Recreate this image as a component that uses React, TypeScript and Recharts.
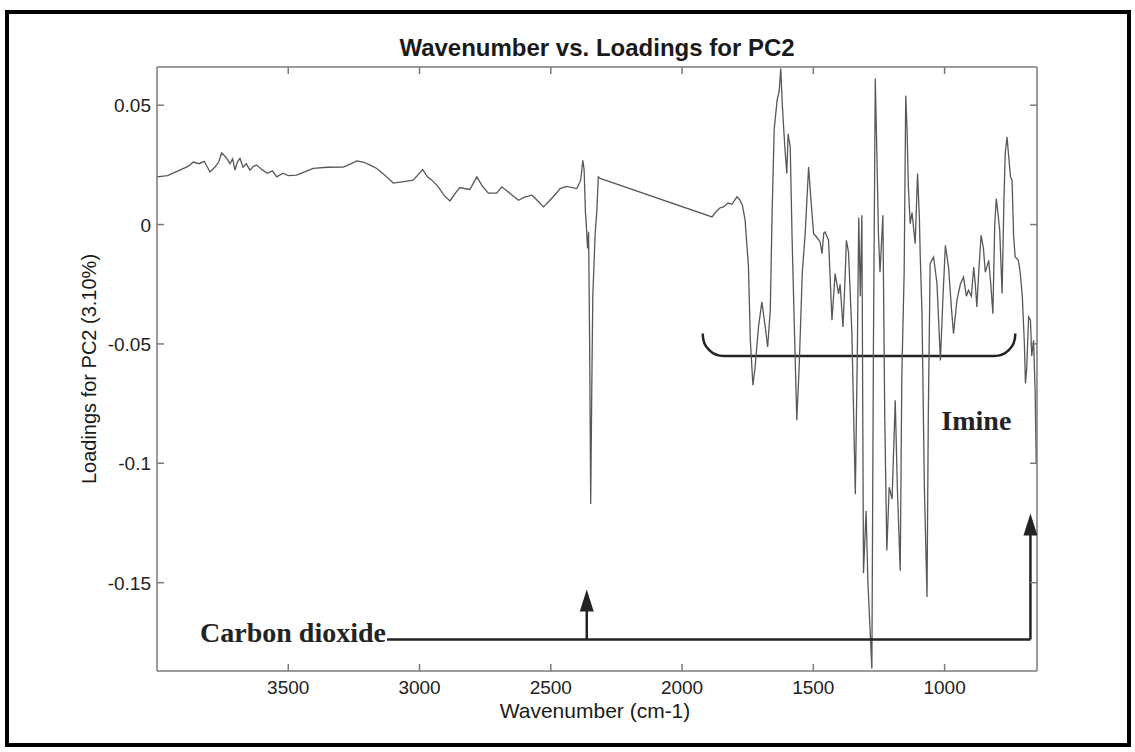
import React from 'react';
import { LineChart, Line, XAxis, YAxis, ReferenceLine, ReferenceDot, ReferenceArea } from 'recharts';

// Wavenumber (cm-1), read left to right (descending)
const wavenumbers: number[] = [
  4000, 3960, 3913, 3880, 3862, 3840, 3820, 3798, 3780, 3765,
  3754, 3740, 3730, 3722, 3712, 3703, 3694, 3684, 3672, 3660,
  3646, 3632, 3620, 3600, 3580, 3560, 3544, 3520, 3500, 3468,
  3440, 3405, 3350, 3290, 3260, 3239, 3214, 3190, 3163, 3130,
  3100, 3060, 3024, 2988, 2970, 2953, 2930, 2905, 2884, 2865,
  2846, 2825, 2808, 2782, 2760, 2738, 2706, 2687, 2655, 2623,
  2600, 2572, 2550, 2528, 2503, 2480, 2465, 2440, 2401, 2386,
  2378, 2373, 2368, 2365, 2360, 2356, 2352, 2348, 2344, 2340,
  2331, 2325, 2319, 2312, 1886, 1870, 1855, 1842, 1825, 1810,
  1791, 1779, 1770, 1760, 1747, 1740, 1730, 1722, 1709, 1696,
  1683, 1674, 1664, 1657, 1649, 1638, 1630, 1624, 1618, 1614,
  1607, 1601, 1596, 1588, 1581, 1573, 1563, 1554, 1542, 1531,
  1518, 1509, 1499, 1489, 1474, 1467, 1460, 1455, 1442, 1429,
  1417, 1404, 1398, 1387, 1380, 1374, 1366, 1353, 1340, 1332,
  1327, 1321, 1315, 1309, 1299, 1292, 1277, 1271, 1264, 1258,
  1252, 1246, 1235, 1228, 1220, 1211, 1200, 1188, 1180, 1169,
  1163, 1154, 1148, 1143, 1138, 1131, 1124, 1112, 1103, 1096,
  1093, 1086, 1077, 1067, 1062, 1055, 1042, 1029, 1016, 1006,
  997, 985, 974, 966, 953, 940, 928, 917, 909, 898,
  889, 883, 877, 870, 861, 852, 845, 832, 824, 816,
  809, 803, 797, 790, 781, 774, 769, 762, 757, 749,
  743, 737, 731, 719, 712, 704, 696, 692, 687, 680,
  673, 668, 661, 655, 651,
];

// Loadings for PC2
const loadings: number[] = [
  0.0200, 0.0205, 0.0228, 0.0245, 0.0262, 0.0255, 0.0265, 0.0220, 0.0240, 0.0262,
  0.0300, 0.0285, 0.0270, 0.0255, 0.0275, 0.0228, 0.0262, 0.0277, 0.0240, 0.0255,
  0.0228, 0.0245, 0.0249, 0.0230, 0.0215, 0.0225, 0.0200, 0.0215, 0.0205, 0.0207,
  0.0220, 0.0235, 0.0240, 0.0241, 0.0255, 0.0267, 0.0262, 0.0250, 0.0235, 0.0205,
  0.0174, 0.0180, 0.0186, 0.0230, 0.0200, 0.0186, 0.0160, 0.0120, 0.0099, 0.0130,
  0.0155, 0.0150, 0.0147, 0.0200, 0.0160, 0.0132, 0.0132, 0.0158, 0.0130, 0.0102,
  0.0115, 0.0123, 0.0100, 0.0074, 0.0102, 0.0130, 0.0151, 0.0160, 0.0151, 0.0186,
  0.0269, 0.0228, 0.0050, 0.0004, -0.0100, -0.0030, -0.0500, -0.1170, -0.0700, -0.0300,
  -0.0037, 0.0050, 0.0200, 0.0193, 0.0032, 0.0055, 0.0070, 0.0074, 0.0090, 0.0085,
  0.0116, 0.0102, 0.0080, 0.0020, -0.0178, -0.0485, -0.0673, -0.0600, -0.0430, -0.0324,
  -0.0430, -0.0513, -0.0360, 0.0050, 0.0400, 0.0520, 0.0560, 0.0654, 0.0500, 0.0423,
  0.0300, 0.0214, 0.0380, 0.0325, -0.0050, -0.0400, -0.0820, -0.0600, -0.0200, -0.0038,
  0.0241, 0.0102, -0.0038, -0.0050, -0.0073, -0.0122, -0.0035, -0.0031, -0.0066, -0.0401,
  -0.0205, -0.0290, -0.0250, -0.0429, -0.0250, -0.0066, -0.0115, -0.0457, -0.1130, -0.0500,
  0.0030, -0.0300, 0.0039, -0.1460, -0.1200, -0.1500, -0.1860, -0.0500, 0.0612, 0.0300,
  -0.0038, -0.0200, 0.0039, -0.0800, -0.1365, -0.1100, -0.1150, -0.0736, -0.1100, -0.1450,
  -0.0640, -0.0200, 0.0540, 0.0400, 0.0158, 0.0004, 0.0050, -0.0080, 0.0214, 0.0030,
  -0.0122, -0.0373, -0.1100, -0.1560, -0.0800, -0.0163, -0.0136, -0.0247, -0.0569, -0.0300,
  -0.0087, -0.0178, -0.0350, -0.0457, -0.0317, -0.0250, -0.0220, -0.0300, -0.0275, -0.0300,
  -0.0178, -0.0250, -0.0345, -0.0200, -0.0045, -0.0100, -0.0200, -0.0150, -0.0250, -0.0373,
  0.0000, 0.0109, 0.0050, -0.0024, -0.0289, 0.0100, 0.0300, 0.0367, 0.0300, 0.0200,
  0.0186, -0.0050, -0.0136, -0.0150, -0.0200, -0.0300, -0.0500, -0.0666, -0.0600, -0.0387,
  -0.0400, -0.0550, -0.0485, -0.0700, -0.1000,
];

const xTicks: number[] = [3500, 3000, 2500, 2000, 1500, 1000];
const yTicks: number[] = [0.05, 0, -0.05, -0.1, -0.15];
const xDomain: [number, number] = [648, 4000];
const yDomain: [number, number] = [-0.187, 0.066];

const titleText = 'Wavenumber vs. Loadings for PC2';
const xLabelText = 'Wavenumber (cm-1)';
const yLabelText = 'Loadings for PC2 (3.10%)';

// Annotations (data coordinates)
const co2Label = 'Carbon dioxide';
const imineLabel = 'Imine';
const baseLineY = -0.1738;
const baseLineStart = 3124;
const baseLineEnd = 673;
const co2ArrowX = 2363;
const co2ArrowTip = -0.1529;
const imineArrowX = 673;
const imineArrowTip = -0.121;
const bracketX1 = 1921;
const bracketX2 = 731;
const bracketTop = -0.0456;
const bracketBottom = -0.0551;
const imineTextX = 742;
const imineTextY = -0.0846;

const data = wavenumbers.map((w, i) => ({ w, v: loadings[i] }));

const AXIS = '#7a7a7a';
const TICK_LEN = 7;
const SANS = '"Liberation Sans", Arial, Helvetica, sans-serif';
const SERIF = '"Liberation Serif", "Times New Roman", serif';
const ANN = '#232323';

const BottomTick = (p: any) => (
  <g>
    <line x1={p.x} x2={p.x} y1={p.y} y2={p.y - TICK_LEN} stroke={AXIS} strokeWidth={1.5} />
    <text x={p.x} y={p.y + 23} textAnchor="middle" fontSize={19} fill="#222" fontFamily={SANS}>
      {String(p.payload.value)}
    </text>
  </g>
);
const TopTick = (p: any) => (
  <line x1={p.x} x2={p.x} y1={p.y} y2={p.y + TICK_LEN} stroke={AXIS} strokeWidth={1.5} />
);
const LeftTick = (p: any) => (
  <g>
    <line x1={p.x} x2={p.x + TICK_LEN} y1={p.y} y2={p.y} stroke={AXIS} strokeWidth={1.5} />
    <text x={p.x - 6} y={p.y + 7} textAnchor="end" fontSize={19} fill="#222" fontFamily={SANS}>
      {String(p.payload.value)}
    </text>
  </g>
);
const RightTick = (p: any) => (
  <line x1={p.x} x2={p.x - TICK_LEN} y1={p.y} y2={p.y} stroke={AXIS} strokeWidth={1.5} />
);

const Arrowhead = (p: any) => (
  <polygon points={`${p.cx},${p.cy} ${p.cx - 7},${p.cy + 22} ${p.cx + 7},${p.cy + 22}`} fill={ANN} />
);

const Bracket = (p: any) => {
  const x = p.x, y = p.y, w = p.width, h = p.height;
  const r = Math.min(21, h);
  const d = `M ${x} ${y} L ${x} ${y + h - r} A ${r} ${r} 0 0 0 ${x + r} ${y + h} L ${x + w - r} ${y + h} A ${r} ${r} 0 0 0 ${x + w} ${y + h - r} L ${x + w} ${y}`;
  return <path d={d} fill="none" stroke={ANN} strokeWidth={2.5} />;
};

const TextAtDot = (label: string) => (p: any) => (
  <text x={p.cx - 1} y={p.cy + 3} textAnchor="end" fontSize={28} fontWeight="bold" fill={ANN} fontFamily={SERIF}>
    {label}
  </text>
);

export default function App() {
  return (
    <div style={{ position: 'absolute', left: 0, top: 0, width: 1135, height: 752, background: '#fff' }}>
      <div
        style={{
          position: 'absolute', left: 5, top: 10, width: 1126, height: 737,
          border: '4px solid #000', boxSizing: 'border-box',
        }}
      />
      <LineChart width={1135} height={752} data={data} margin={{ top: 66, right: 97, bottom: 51, left: 97 }}>
        <XAxis
          xAxisId="b" dataKey="w" type="number" domain={xDomain} reversed allowDataOverflow
          ticks={xTicks} interval={0} height={30} tickSize={0} tickMargin={0} tickLine={false}
          tick={<BottomTick />} axisLine={{ stroke: AXIS, strokeWidth: 1.5 }}
        />
        <XAxis
          xAxisId="t" orientation="top" dataKey="w" type="number" domain={xDomain} reversed allowDataOverflow
          ticks={xTicks} interval={0} height={1} tickSize={0} tickMargin={0} tickLine={false}
          tick={<TopTick />} axisLine={{ stroke: AXIS, strokeWidth: 1.5 }}
        />
        <YAxis
          yAxisId="l" type="number" domain={yDomain} allowDataOverflow ticks={yTicks} interval={0}
          width={60} tickSize={0} tickMargin={0} tickLine={false} tick={<LeftTick />}
          axisLine={{ stroke: AXIS, strokeWidth: 1.5 }}
        />
        <YAxis
          yAxisId="r" orientation="right" type="number" domain={yDomain} allowDataOverflow ticks={yTicks} interval={0}
          width={1} tickSize={0} tickMargin={0} tickLine={false} tick={<RightTick />}
          axisLine={{ stroke: AXIS, strokeWidth: 1.5 }}
        />
        <Line
          xAxisId="b" yAxisId="l" type="linear" dataKey="v" stroke="#585858" strokeWidth={1.3}
          dot={false} activeDot={false} isAnimationActive={false}
        />
        <ReferenceArea
          xAxisId="b" yAxisId="l" x1={bracketX1} x2={bracketX2} y1={bracketBottom} y2={bracketTop}
          shape={Bracket} ifOverflow="visible"
        />
        <ReferenceLine
          xAxisId="b" yAxisId="l" ifOverflow="visible"
          segment={[{ x: baseLineStart, y: baseLineY }, { x: baseLineEnd, y: baseLineY }]}
          stroke={ANN} strokeWidth={2.5}
        />
        <ReferenceLine
          xAxisId="b" yAxisId="l" ifOverflow="visible"
          segment={[{ x: co2ArrowX, y: baseLineY }, { x: co2ArrowX, y: co2ArrowTip - 0.004 }]}
          stroke={ANN} strokeWidth={2.5}
        />
        <ReferenceLine
          xAxisId="b" yAxisId="l" ifOverflow="visible"
          segment={[{ x: imineArrowX, y: baseLineY }, { x: imineArrowX, y: imineArrowTip - 0.004 }]}
          stroke={ANN} strokeWidth={2.5}
        />
        <ReferenceDot xAxisId="b" yAxisId="l" x={co2ArrowX} y={co2ArrowTip} ifOverflow="visible" shape={Arrowhead} />
        <ReferenceDot xAxisId="b" yAxisId="l" x={imineArrowX} y={imineArrowTip} ifOverflow="visible" shape={Arrowhead} />
        <ReferenceDot xAxisId="b" yAxisId="l" x={baseLineStart} y={baseLineY} ifOverflow="visible" shape={TextAtDot(co2Label)} />
        <ReferenceDot xAxisId="b" yAxisId="l" x={imineTextX} y={imineTextY} ifOverflow="visible" shape={TextAtDot(imineLabel)} />
      </LineChart>
      <svg width={1135} height={752} style={{ position: 'absolute', left: 0, top: 0, pointerEvents: 'none' }}>
        <text x={597} y={56} textAnchor="middle" fontSize={24} fontWeight="bold" fill="#1a1a1a" fontFamily={SANS}>
          {titleText}
        </text>
        <text x={595} y={718} textAnchor="middle" fontSize={21} fill="#1a1a1a" fontFamily={SANS}>
          {xLabelText}
        </text>
        <text
          x={89} y={369} textAnchor="middle" dy="0.35em" fontSize={20} fill="#1a1a1a" fontFamily={SANS}
          transform="rotate(-90, 89, 369)"
        >
          {yLabelText}
        </text>
      </svg>
    </div>
  );
}
